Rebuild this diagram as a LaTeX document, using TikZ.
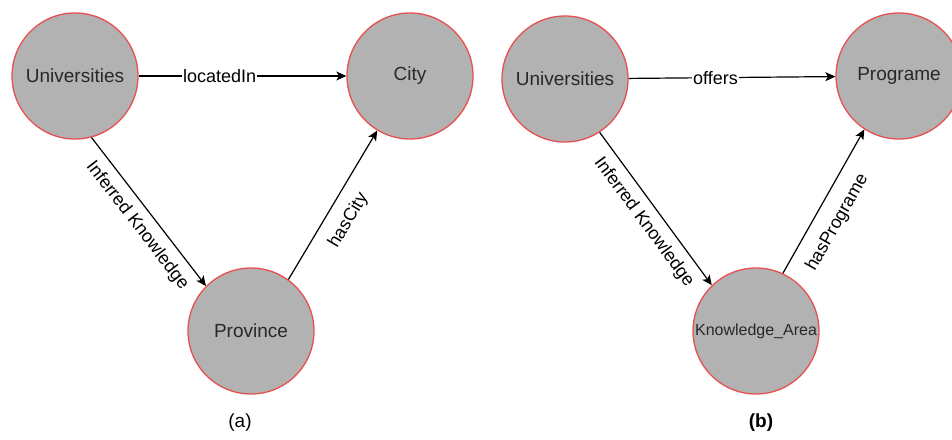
\documentclass[tikz,border=0pt]{standalone}
\usepackage{fontspec}
\setmainfont{Liberation Sans}
\usetikzlibrary{arrows.meta}
\definecolor{nodefill}{RGB}{178,178,178}
\definecolor{nodeborder}{RGB}{232,80,80}
\definecolor{nodetext}{RGB}{40,40,40}
\begin{document}
\begin{tikzpicture}[x=1pt,y=-1pt,
  concept/.style={circle, fill=nodefill, draw=nodeborder, line width=1.3pt, minimum size=126pt, inner sep=0pt, text=nodetext, font=\fontsize{19}{22}\selectfont},
  rel/.style={draw=black, line width=1.2pt, -{Stealth[length=10pt,width=9pt,inset=2.5pt]}},
  lbl/.style={font=\fontsize{18}{21}\selectfont, inner sep=2pt, text=black},
  midlbl/.style={lbl, fill=white, inner sep=1pt},
  caption/.style={font=\fontsize{19}{22}\selectfont}
]
\useasboundingbox (0,0) rectangle (952,439);
\clip (0,0) rectangle (952,439);
% (a)
\node[concept] (u1) at (75,76) {Universities};
\node[concept] (city) at (410,76) {City};
\node[concept] (prov) at (251,331) {Province};
\draw[rel] (u1) -- node[midlbl, pos=0.39] {locatedIn} (city);
\draw[rel] (u1.-75) -- node[lbl, pos=0.52, sloped, below=6.5pt] {Inferred Knowledge} (prov.135);
\draw[rel] (prov.54) -- node[lbl, pos=0.47, sloped, below=10.5pt] {hasCity} (city.-121);
\node[caption] (capa) at (240,423) {(a)};
% (b)
\node[concept] (u2) at (565,79) {Universities};
\node[concept] (prog) at (899,76) {Programe};
\node[concept, font=\fontsize{16}{19}\selectfont] (ka) at (756,331) {Knowledge\_Area};
\draw[rel] (u2) -- node[midlbl, pos=0.42] {offers} (prog);
\draw[rel] (u2.-57) -- node[lbl, pos=0.52, sloped, below=6.5pt] {Inferred Knowledge} (ka.134);
\draw[rel] (ka.65) -- node[lbl, pos=0.43, sloped, below=11.5pt] {hasPrograme} (prog.-123);
\node[caption, font=\fontsize{19}{22}\selectfont\bfseries] (capb) at (761,423) {(b)};
\end{tikzpicture}
\end{document}
